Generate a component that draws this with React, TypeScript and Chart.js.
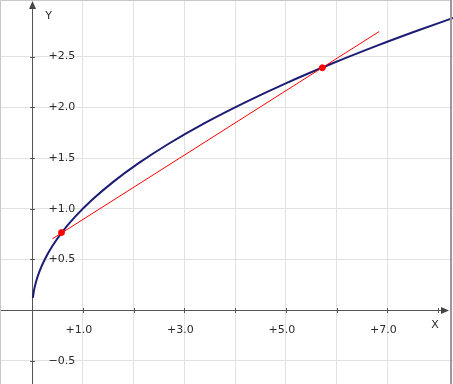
import { useEffect, useRef } from "react";
import { Chart, registerables } from "chart.js";

Chart.register(...registerables);

// Curve
const curveX = [0.015, 0.04, 0.08, 0.15, 0.25, 0.4, 0.6, 0.85, 1.2, 1.6, 2.1, 2.7, 3.4, 4.2, 5.0, 5.9, 6.8, 7.6, 8.3];
const curveY = [0.122, 0.2, 0.283, 0.387, 0.5, 0.632, 0.775, 0.922, 1.095, 1.265, 1.449, 1.643, 1.844, 2.049, 2.236, 2.429, 2.608, 2.757, 2.881];

// Secant line and its two points
const secantX = [0.4, 6.84];
const secantY = [0.703, 2.747];
const pointX = [0.58, 5.72];
const pointY = [0.765, 2.39];

// Axes
const xTickValues = [1, 2, 3, 4, 5, 6, 7, 8];
const xLabelValues = [1, 3, 5, 7];
const yTickValues = [-0.5, 0.5, 1, 1.5, 2, 2.5, 3];
const yLabelValues = [-0.5, 0.5, 1, 1.5, 2, 2.5];
const xRange = [-0.632, 8.295];
const yRange = [-0.728, 3.058];
const xAxisName = "X";
const yAxisName = "Y";

const fmt = (v: number) => (v < 0 ? "\u2212" : "+") + Math.abs(v).toFixed(1);

const isMultiple = (v: number, step: number) => Math.abs(v / step - Math.round(v / step)) < 1e-6;

const axesPlugin = {
  id: "axesPlugin",
  beforeDatasetsDraw(chart: any) {
    const { ctx } = chart;
    const xs = chart.scales.x;
    const ys = chart.scales.y;
    const x0 = Math.round(xs.getPixelForValue(0)) + 0.5;
    const y0 = Math.round(ys.getPixelForValue(0)) + 0.5;
    const left = chart.chartArea.left;
    const right = chart.chartArea.right;
    const top = chart.chartArea.top;
    const bottom = chart.chartArea.bottom;
    ctx.save();
    ctx.strokeStyle = "#555";
    ctx.fillStyle = "#444";
    ctx.lineWidth = 1;
    // x axis
    ctx.beginPath();
    ctx.moveTo(left, y0);
    ctx.lineTo(right - 6, y0);
    ctx.stroke();
    // y axis
    ctx.beginPath();
    ctx.moveTo(x0, bottom);
    ctx.lineTo(x0, top + 6);
    ctx.stroke();
    // arrows
    ctx.beginPath();
    ctx.moveTo(right - 4, y0);
    ctx.lineTo(right - 12, y0 - 3.5);
    ctx.lineTo(right - 12, y0 + 3.5);
    ctx.closePath();
    ctx.fill();
    ctx.beginPath();
    ctx.moveTo(x0, top + 1);
    ctx.lineTo(x0 - 3.5, top + 9);
    ctx.lineTo(x0 + 3.5, top + 9);
    ctx.closePath();
    ctx.fill();
    // ticks
    ctx.beginPath();
    xTickValues.forEach((v) => {
      const px = Math.round(xs.getPixelForValue(v)) + 0.5;
      ctx.moveTo(px, y0 - 2.5);
      ctx.lineTo(px, y0 + 2.5);
    });
    yTickValues.forEach((v) => {
      const py = Math.round(ys.getPixelForValue(v)) + 0.5;
      ctx.moveTo(x0 - 2.5, py);
      ctx.lineTo(x0 + 2.5, py);
    });
    ctx.stroke();
    // labels
    ctx.fillStyle = "#2b2b2b";
    ctx.font = "11px 'DejaVu Sans'";
    ctx.textBaseline = "middle";
    ctx.textAlign = "center";
    xLabelValues.forEach((v) => {
      ctx.fillText(fmt(v), xs.getPixelForValue(v) - 4, y0 + 20);
    });
    ctx.textAlign = "left";
    yLabelValues.forEach((v) => {
      ctx.fillText(fmt(v), x0 + 16, ys.getPixelForValue(v));
    });
    ctx.textAlign = "center";
    ctx.fillText(xAxisName, right - 18, y0 + 15);
    ctx.fillText(yAxisName, x0 + 16, top + 16);
    ctx.restore();
  },
  afterDraw(chart: any) {
    const { ctx, width, height } = chart;
    ctx.save();
    ctx.lineWidth = 1;
    ctx.strokeStyle = "#c8c8c8";
    ctx.beginPath();
    ctx.moveTo(0.5, height);
    ctx.lineTo(0.5, 0.5);
    ctx.lineTo(width - 2, 0.5);
    ctx.stroke();
    ctx.strokeStyle = "#999";
    ctx.lineWidth = 2;
    ctx.beginPath();
    ctx.moveTo(width - 2, 0);
    ctx.lineTo(width - 2, height);
    ctx.stroke();
    ctx.restore();
  },
};

export default function App() {
  const ref = useRef<HTMLCanvasElement | null>(null);
  useEffect(() => {
    if (!ref.current) return;
    const gridColor = (step: number) => (c: any) => {
      const v = c.tick ? c.tick.value : NaN;
      if (!isFinite(v) || Math.abs(v) < 1e-9 || !isMultiple(v, step)) return "rgba(0,0,0,0)";
      return "#e2e2e2";
    };
    const chart = new Chart(ref.current, {
      type: "scatter",
      data: {
        datasets: [
          {
            label: "points",
            data: pointX.map((x, i) => ({ x, y: pointY[i] })),
            backgroundColor: "#ff0000",
            borderColor: "#ff0000",
            pointRadius: 3,
            showLine: false,
            order: 0,
          },
          {
            label: "secant",
            data: secantX.map((x, i) => ({ x, y: secantY[i] })),
            borderColor: "#ff0000",
            borderWidth: 1,
            pointRadius: 0,
            showLine: true,
            order: 1,
          },
          {
            label: "curve",
            data: curveX.map((x, i) => ({ x, y: curveY[i] })),
            borderColor: "#1c1c74",
            borderWidth: 2,
            pointRadius: 0,
            showLine: true,
            cubicInterpolationMode: "monotone",
            order: 2,
          } as any,
        ],
      },
      options: {
        responsive: false,
        animation: false,
        layout: { padding: 0, autoPadding: false },
        plugins: { legend: { display: false }, tooltip: { enabled: false } },
        scales: {
          x: {
            type: "linear",
            min: xRange[0],
            max: xRange[1],
            ticks: { display: false, stepSize: 1 },
            border: { display: false },
            grid: { drawTicks: false, color: gridColor(1), lineWidth: 1 },
          },
          y: {
            type: "linear",
            min: yRange[0],
            max: yRange[1],
            ticks: { display: false, stepSize: 0.5 },
            border: { display: false },
            grid: { drawTicks: false, color: gridColor(0.5), lineWidth: 1 },
          },
        },
      },
      plugins: [axesPlugin],
    });
    return () => chart.destroy();
  }, []);
  return (
    <div style={{ position: "fixed", left: 0, top: 0, width: 453, height: 384, background: "#fff" }}>
      <canvas ref={ref} width={453} height={384} style={{ display: "block" }} />
    </div>
  );
}
